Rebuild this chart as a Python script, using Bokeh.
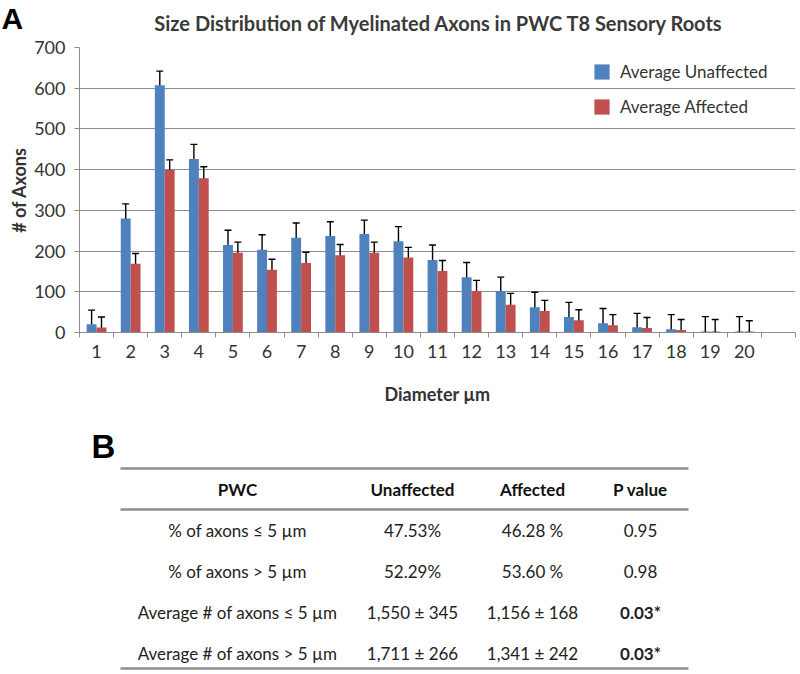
import numpy as np
from bokeh.plotting import figure
from bokeh.models import (ColumnDataSource, Whisker, TeeHead, Legend, LegendItem,
                          FixedTicker, Range1d)
from bokeh.layouts import column
from bokeh.embed import file_html
from bokeh.resources import INLINE
from bokeh.core.properties import value

# ---------------- data ----------------
diameters = list(range(1, 21))
unaffected = [20, 280, 607, 426, 215, 203, 233, 237, 242, 224, 178, 136, 102, 62, 38, 23, 13, 8, 2, 2]
unaffected_err = [35, 36, 35, 36, 36, 37, 36, 35, 34, 36, 37, 36, 34, 37, 36, 36, 34, 36, 37, 37]
affected = [12, 169, 400, 379, 196, 154, 171, 190, 196, 184, 151, 102, 68, 53, 30, 18, 11, 6, 2, 2]
affected_err = [26, 25, 24, 28, 26, 26, 26, 26, 26, 25, 26, 26, 28, 26, 26, 26, 26, 26, 30, 27]
y_ticks = [0, 100, 200, 300, 400, 500, 600, 700]
series_names = ["Average Unaffected", "Average Affected"]
chart_title = "Size Distribution  of Myelinated Axons in PWC T8 Sensory Roots"

table_headers = ["PWC", "Unaffected", "Affected", "P value"]
row_labels = ["% of axons \u2264 5 \u00b5m", "% of axons > 5 \u00b5m",
              "Average # of axons \u2264 5 \u00b5m", "Average # of axons > 5 \u00b5m"]
unaffected_col = ["47.53%", "52.29%", "1,550 \u00b1 345", "1,711 \u00b1 266"]
affected_col = ["46.28 %", "53.60 %", "1,156 \u00b1 168", "1,341 \u00b1 242"]
p_values = ["0.95", "0.98", "0.03*", "0.03*"]
p_significant = [False, False, True, True]

# ---------------- style ----------------
BLUE = "#4F81BD"
RED = "#C0504D"
GRID = "#8c8c8c"
TXT = "#333333"
FONT = "Lato"
W = 800

# ---------------- header (panel letter + title) ----------------
HEAD_H = 35
h = figure(width=W, height=HEAD_H, x_range=Range1d(0, W), y_range=Range1d(HEAD_H, 0),
           output_backend="svg", toolbar_location=None, x_axis_type=None, y_axis_type=None,
           min_border=0, frame_align=False)
h.outline_line_color = None
h.xgrid.visible = False
h.ygrid.visible = False
h.text(x=[1], y=[17.5], text=["A"], text_font=value("Liberation Sans"), text_font_size="30px",
       text_font_style="bold", text_color="black", text_align="left", text_baseline="middle")
h.text(x=[441], y=[22], text=[chart_title], text_font=value(FONT), text_font_size="20px",
       text_font_style="bold", text_color="#3a3a3a", text_align="center", text_baseline="middle")

# ---------------- chart ----------------
CH_H = 383
x = np.array(diameters, dtype=float)
dx = 0.145
bw = 0.29

p = figure(width=W, height=CH_H, x_range=Range1d(0.5, len(diameters) + 1.5), y_range=Range1d(0, 700),
           output_backend="svg", toolbar_location=None, frame_align=False,
           min_border_left=79, min_border_right=5, min_border_top=12, min_border_bottom=86)

src_u = ColumnDataSource(dict(x=x - dx, top=unaffected,
                              upper=np.array(unaffected) + np.array(unaffected_err),
                              lower=np.maximum(np.array(unaffected) - np.array(unaffected_err), 0)))
src_a = ColumnDataSource(dict(x=x + dx, top=affected,
                              upper=np.array(affected) + np.array(affected_err),
                              lower=np.maximum(np.array(affected) - np.array(affected_err), 0)))

r_u = p.vbar(x="x", top="top", width=bw, bottom=0, source=src_u, fill_color=BLUE, line_color=None)
r_a = p.vbar(x="x", top="top", width=bw, bottom=0, source=src_a, fill_color=RED, line_color=None)

for src in (src_u, src_a):
    w = Whisker(base="x", upper="upper", lower="lower", source=src,
                line_color="black", line_width=1.4,
                upper_head=TeeHead(size=7, line_color="black", line_width=1.4),
                lower_head=TeeHead(size=7, line_color="black", line_width=1.4))
    p.add_layout(w)

p.outline_line_color = None
p.xgrid.visible = False
p.ygrid.grid_line_color = GRID
p.ygrid.grid_line_width = 1
p.yaxis.ticker = FixedTicker(ticks=y_ticks)
p.yaxis.axis_line_color = GRID
p.yaxis.major_tick_line_color = GRID
p.yaxis.major_tick_out = 5
p.yaxis.major_tick_in = 0
p.yaxis.minor_tick_line_color = None
p.yaxis.major_label_text_font = FONT
p.yaxis.major_label_text_font_size = "18px"
p.yaxis.major_label_text_color = TXT
p.yaxis.major_label_standoff = 9
p.yaxis.axis_label = "# of Axons"
p.yaxis.axis_label_text_font = FONT
p.yaxis.axis_label_text_font_size = "18px"
p.yaxis.axis_label_text_font_style = "bold"
p.yaxis.axis_label_text_color = TXT
p.yaxis.axis_label_standoff = 1

boundaries = list(np.arange(0.5, len(diameters) + 2, 1.0))
p.xaxis.ticker = FixedTicker(ticks=diameters, minor_ticks=boundaries)
p.xaxis.axis_line_color = GRID
p.xaxis.major_tick_out = 0
p.xaxis.major_tick_in = 0
p.xaxis.minor_tick_out = 5
p.xaxis.minor_tick_in = 0
p.xaxis.minor_tick_line_color = GRID
p.xaxis.major_label_text_font = FONT
p.xaxis.major_label_text_font_size = "18px"
p.xaxis.major_label_text_color = TXT
p.xaxis.major_label_standoff = 7
p.xaxis.axis_label = "Diameter \u00b5m"
p.xaxis.axis_label_text_font = FONT
p.xaxis.axis_label_text_font_size = "18px"
p.xaxis.axis_label_text_font_style = "bold"
p.xaxis.axis_label_text_color = TXT
p.xaxis.axis_label_standoff = 22

legend = Legend(items=[LegendItem(label=series_names[0], renderers=[r_u]),
                       LegendItem(label=series_names[1], renderers=[r_a])],
                location=(513, 215), glyph_width=19, glyph_height=19, spacing=14,
                label_standoff=9, padding=0, margin=0, border_line_color=None,
                background_fill_alpha=0, label_text_font=FONT, label_text_font_size="17px",
                label_text_color=TXT, label_height=19)
p.add_layout(legend)

# ---------------- table ----------------
TOP = HEAD_H + CH_H
T_H = 254
t = figure(width=W, height=T_H, x_range=Range1d(0, W), y_range=Range1d(T_H, 0),
           output_backend="svg", toolbar_location=None, x_axis_type=None, y_axis_type=None,
           min_border=0, frame_align=False)
t.outline_line_color = None
t.xgrid.visible = False
t.ygrid.visible = False

col_x = [237, 412, 532, 640]
header_y = 489 - TOP
row_y = [530 - TOP, 571 - TOP, 612 - TOP, 653 - TOP]
rule_y = [468 - TOP, 509 - TOP, 668 - TOP]

t.segment(x0=[120] * 3, x1=[688] * 3, y0=rule_y, y1=rule_y, line_color=GRID, line_width=2.5)

t.text(x=col_x, y=[header_y] * 4, text=table_headers, text_font=value(FONT),
       text_font_size="17px", text_font_style="bold", text_color="#111111",
       text_align="center", text_baseline="middle")

n = len(row_labels)
cells = ColumnDataSource(dict(
    x=[col_x[0]] * n + [col_x[1]] * n + [col_x[2]] * n + [col_x[3]] * n,
    y=row_y * 4,
    text=row_labels + unaffected_col + affected_col + p_values,
    style=["normal"] * (3 * n) + ["bold" if s else "normal" for s in p_significant],
))
t.text(x="x", y="y", text="text", source=cells, text_font=value(FONT),
       text_font_size="17px", text_font_style="style", text_color="#222222",
       text_align="center", text_baseline="middle")

t.text(x=[91], y=[446 - TOP], text=["B"], text_font=value("Liberation Sans"), text_font_size="33px",
       text_font_style="bold", text_color="black", text_align="left", text_baseline="middle")

layout = column(h, p, t, spacing=0)
open("out.html", "w").write(file_html(layout, INLINE))
